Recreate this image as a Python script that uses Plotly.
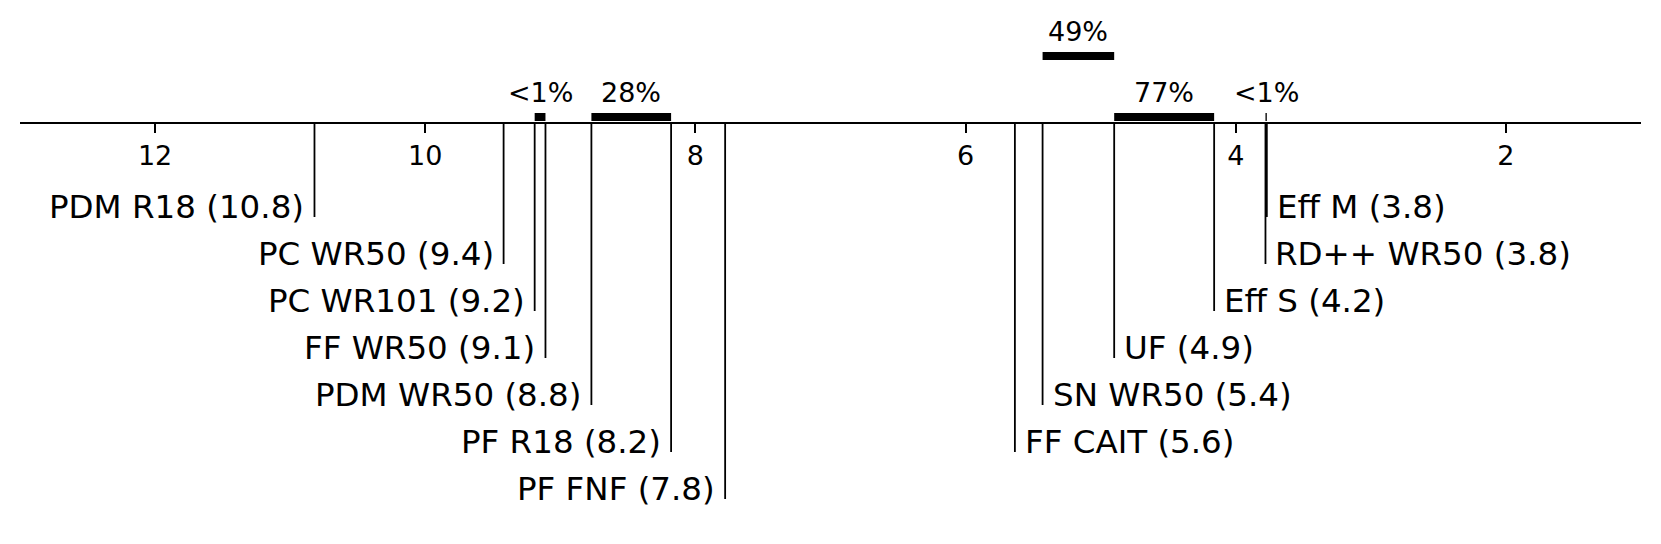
import plotly.graph_objects as go

# ---- data ----
methods = ["PDM R18", "PC WR50", "PC WR101", "FF WR50", "PDM WR50", "PF R18", "PF FNF",
           "FF CAIT", "SN WR50", "UF", "Eff S", "Eff M", "RD++ WR50"]
avg_rank = [10.82, 9.42, 9.19, 9.11, 8.77, 8.18, 7.78,
            5.635, 5.43, 4.90, 4.16, 3.77, 3.78]
# groups (cliques) with p-value labels
clique_from = ["PC WR101", "PDM WR50", "SN WR50", "UF", "Eff M"]
clique_to = ["FF WR50", "PF R18", "UF", "Eff S", "RD++ WR50"]
clique_label = ["<1%", "28%", "49%", "77%", "<1%"]
clique_level = [0, 0, 1, 0, 0]
tick_vals = [2, 4, 6, 8, 10, 12]

# ---- layout constants (page pixels) ----
OFF = 8                      # default page body margin
W, H = 1661 - OFF, 544 - OFF
AXIS_Y = 123 - OFF
ROW0 = 207 - OFF
ROW_STEP = 47
LINE_EXTRA = 10
BAR_H = 8
BAR_LEVEL_Y = [117 - OFF, 56 - OFF]
PCT_OFFSET = 25
FONT = "DejaVu Sans"

rank = dict(zip(methods, avg_rank))
n = len(methods)
mid = (n + 1) / 2.0
left = sorted([m for m in methods if rank[m] > mid], key=lambda m: -rank[m])
right = sorted([m for m in methods if rank[m] <= mid], key=lambda m: rank[m])

fig = go.Figure()
annotations = []
shapes = []

lx, ly = [], []
for side, group in (("left", left), ("right", right)):
    for i, m in enumerate(group):
        v = rank[m]
        y_lab = ROW0 + ROW_STEP * i
        lx += [v, v, None]
        ly += [AXIS_Y, y_lab + LINE_EXTRA, None]
        annotations.append(dict(
            x=v, y=y_lab, xref="x", yref="y",
            text=f"{m} ({v:.1f})", showarrow=False,
            xanchor="right" if side == "left" else "left",
            yanchor="middle",
            xshift=-8 if side == "left" else 8,
            font=dict(family=FONT, size=32.5, color="black"),
        ))

fig.add_trace(go.Scatter(x=lx, y=ly, mode="lines",
                         line=dict(color="black", width=1.8),
                         hoverinfo="skip", showlegend=False))

for a, b, lab, lev in zip(clique_from, clique_to, clique_label, clique_level):
    x0, x1 = rank[a], rank[b]
    yc = BAR_LEVEL_Y[lev]
    shapes.append(dict(type="rect", xref="x", yref="y",
                       x0=x0, x1=x1, y0=yc - BAR_H / 2, y1=yc + BAR_H / 2,
                       fillcolor="black", line=dict(width=0)))
    annotations.append(dict(
        x=(x0 + x1) / 2, y=yc - PCT_OFFSET, xref="x", yref="y",
        text=lab, showarrow=False, xanchor="center", yanchor="middle",
        font=dict(family=FONT, size=27, color="black"),
    ))

fig.update_layout(
    width=W, height=H,
    margin=dict(l=20 - OFF, r=20, t=0, b=0),
    paper_bgcolor="white", plot_bgcolor="white",
    shapes=shapes, annotations=annotations,
    showlegend=False,
    xaxis=dict(range=[n, 1], anchor="free", position=1 - AXIS_Y / H,
               side="bottom", showline=True, linecolor="black", linewidth=1.6,
               showgrid=False, zeroline=False,
               tickmode="array", tickvals=tick_vals,
               ticks="outside", ticklen=9, tickwidth=1.6, tickcolor="black",
               tickfont=dict(family=FONT, size=27, color="black")),
    yaxis=dict(range=[H, 0], visible=False, domain=[0, 1]),
)

fig.write_html("out.html")
